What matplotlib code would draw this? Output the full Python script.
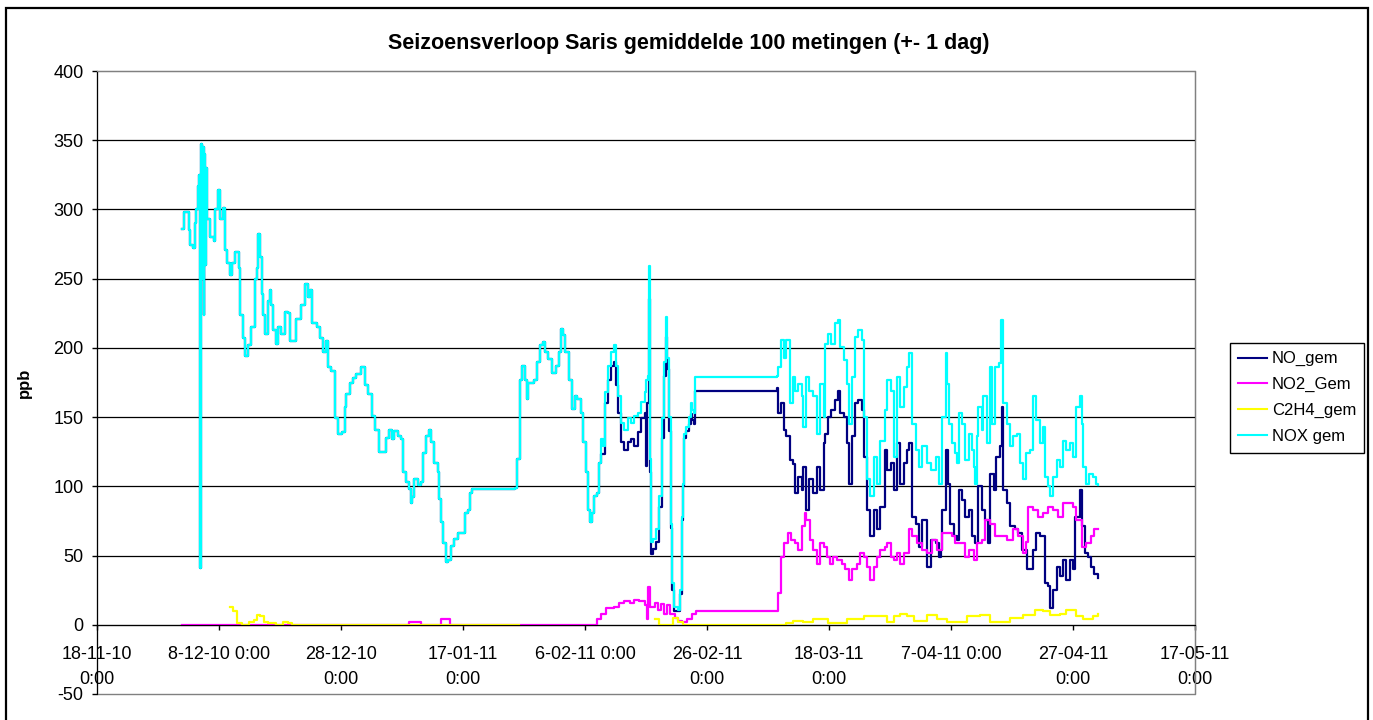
import numpy as np
import pandas as pd
import matplotlib
matplotlib.use('Agg')
import matplotlib.pyplot as plt
from matplotlib.patches import Rectangle

plt.rcParams['font.family'] = ['Liberation Sans', 'DejaVu Sans']
plt.rcParams['axes.unicode_minus'] = False

title = "Seizoensverloop Saris gemiddelde 100 metingen (+- 1 dag)"
series_names = ["NO_gem", "NO2_Gem", "C2H4_gem", "NOX gem"]
series_colors = ["#000080", "#FF00FF", "#FFFF00", "#00FFFF"]
start = pd.Timestamp("2010-11-18")

# NOX (days after 18-11-10, ppb)
nox_days = [13.9, 14.2, 14.7, 15.0, 15.3, 15.8, 16.1, 16.3, 16.6, 16.8, 16.9, 17.0, 17.1, 17.25,
            17.4, 17.5, 17.6, 17.75, 17.9, 18.0, 18.5, 19.1, 19.3, 19.9, 20.2, 20.7, 21.0, 21.3,
            21.8, 22.1, 22.6, 23.2, 23.4, 24.0, 24.3, 24.8, 25.3, 25.9, 26.2, 26.4, 26.7, 27.0,
            27.2, 27.5, 28.1, 28.3, 28.6, 28.9, 29.3, 29.7, 30.2, 30.8, 31.3, 31.6, 32.2, 32.7,
            33.5, 34.1, 34.6, 34.9, 35.2, 36.0, 36.5, 37.1, 37.6, 37.9, 38.4, 39.0, 39.5, 40.1,
            40.6, 40.9, 41.4, 42.0, 42.5, 43.2, 43.9, 44.4, 45.0, 45.5, 46.3, 46.9, 47.4, 47.9,
            48.4, 48.7, 49.3, 49.8, 50.1, 50.6, 51.2, 51.5, 51.7, 52.0, 52.6, 53.1, 53.4, 53.9,
            54.4, 54.8, 55.3, 55.9, 56.1, 56.4, 56.8, 57.2, 57.5, 58.1, 58.6, 59.2, 59.7, 60.3,
            60.8, 61.1, 61.4, 65.0, 68.5, 68.8, 69.3, 69.6, 70.2, 70.5, 70.7, 71.6, 72.1, 72.7,
            73.1, 73.5, 74.0, 74.6, 75.2, 75.7, 76.0, 76.4, 76.8, 77.4, 77.9, 78.3, 78.7, 79.3,
            79.6, 80.1, 80.5, 80.9, 81.2, 81.5, 82.0]
nox_vals = [286, 298, 298, 285, 274, 272, 290, 300, 317, 325, 41, 300, 347, 250,
            345, 224, 340, 260, 330, 293, 280, 277, 300, 314, 293, 301, 271, 261,
            253, 261, 269, 258, 224, 207, 194, 202, 215, 250, 258, 282, 266, 239,
            224, 210, 234, 242, 231, 213, 203, 215, 210, 226, 225, 205, 205, 221,
            231, 246, 237, 242, 218, 215, 207, 197, 205, 186, 183, 149, 138, 139,
            157, 167, 175, 178, 181, 186, 173, 167, 151, 141, 125, 125, 135, 141,
            134, 140, 136, 134, 110, 103, 98, 88, 92, 105, 101, 103, 124, 136,
            141, 132, 117, 110, 91, 74, 59, 45, 47, 57, 62, 66, 66, 81,
            83, 95, 98, 98, 99, 120, 177, 187, 177, 163, 175, 177, 190, 202,
            204, 197, 192, 182, 187, 197, 214, 209, 197, 177, 156, 165, 163, 153,
            132, 110, 83, 74, 81, 93, 95]
nox_late_days = [82.3, 82.7, 83.0, 83.3, 83.7, 84.2, 84.7, 85.1, 85.4, 85.9, 86.4, 87.0, 87.6,
                 88.1, 88.7, 89.1, 89.8, 90.0, 90.3, 90.5, 90.7, 90.8, 91.2, 91.7, 92.1, 92.6,
                 93.0, 93.2, 93.5, 93.8, 94.1, 94.3, 94.6, 95.2, 95.5, 95.9, 96.1, 96.3, 96.5,
                 97.1, 97.4, 97.6, 97.9, 98.1, 111.4, 111.6, 112.2, 112.7, 113.0, 113.6, 114.1,
                 114.4, 114.9, 115.5, 115.8, 116.3, 116.8, 117.4, 118.0, 118.5, 119.1, 119.3,
                 119.9, 120.4, 121.0, 121.4, 121.8, 122.4, 122.9, 123.2, 123.7, 124.3, 124.8,
                 125.4, 125.8, 126.2, 126.8, 127.3, 127.9, 128.4, 129.1, 129.5, 130.1, 130.6,
                 131.2, 131.7, 132.3, 132.8, 133.1, 133.6, 134.2, 134.7, 135.3, 136.1, 136.8,
                 137.5, 138.0, 138.5, 139.1, 139.3, 139.6, 140.2, 140.7, 141.0, 141.3, 141.8,
                 142.3, 142.9, 143.4, 143.7, 144.0, 144.2, 144.5, 145.1, 145.3, 145.9, 146.4,
                 146.8, 147.2, 147.8, 148.2, 148.6, 149.1, 149.7, 150.2, 150.8, 151.3, 151.8,
                 152.3, 152.9, 153.5, 154.0, 154.6, 155.1, 155.4, 155.9, 156.3, 156.7, 157.3,
                 157.8, 158.4, 158.9, 159.5, 160.0, 160.5, 161.1, 161.5, 161.7, 162.2, 162.7,
                 163.3, 163.8, 164.1]
nox_late_vals = [117, 134, 129, 168, 187, 197, 202, 187, 165, 146, 141, 149, 146,
                 151, 153, 161, 168, 177, 180, 259, 120, 60, 62, 69, 93, 149,
                 190, 222, 193, 150, 73, 30, 13, 11, 25, 78, 102, 138, 143,
                 150, 160, 155, 153, 179, 180, 186, 206, 193, 206, 160, 179,
                 169, 174, 165, 143, 179, 169, 165, 138, 174, 150, 203,
                 210, 203, 218, 220, 201, 191, 174, 145, 179, 208, 213,
                 206, 150, 105, 93, 121, 102, 133, 155, 177, 169, 121,
                 179, 157, 172, 186, 196, 145, 126, 114, 129, 117, 112,
                 121, 102, 150, 196, 174, 145, 131, 124, 117, 153, 145,
                 119, 138, 126, 114, 102, 136, 157, 141, 165, 131, 186,
                 145, 186, 189, 220, 160, 145, 129, 136, 138, 117, 105,
                 124, 126, 165, 148, 131, 143, 107, 100, 93, 107, 119,
                 114, 133, 126, 131, 121, 157, 165, 145, 114, 102, 109,
                 107, 102, 101]

# NO lies under NOX while NO2 is zero, then separates
no_late_days = [82.3, 82.7, 83.0, 83.3, 83.7, 84.2, 84.7, 85.1, 85.4, 85.9, 86.4, 87.0, 87.6,
                88.1, 88.7, 89.1, 89.8, 90.0, 90.2, 90.5, 90.7, 90.8, 91.2, 91.7, 92.1, 92.6,
                93.0, 93.2, 93.5, 93.8, 94.1, 94.3, 94.6, 95.2, 95.5, 95.9, 96.1, 96.3, 96.5,
                97.1, 97.4, 97.6, 97.9, 98.1, 111.4, 111.6, 112.2, 112.7, 113.0, 113.6, 114.1,
                114.4, 114.9, 115.5, 115.8, 116.3, 116.8, 117.4, 118.0, 118.5, 119.1, 119.3,
                119.9, 120.4, 121.0, 121.4, 121.8, 122.4, 122.9, 123.2, 123.7, 124.3, 124.8,
                125.4, 125.8, 126.2, 126.8, 127.3, 127.9, 128.4, 129.1, 129.5, 130.1, 130.6,
                131.2, 131.7, 132.3, 132.8, 133.1, 133.6, 134.2, 134.7, 135.3, 136.1, 136.8,
                137.5, 138.0, 138.3, 138.5, 139.1, 139.5, 139.9, 140.5, 141.0, 141.3, 141.8,
                142.3, 142.9, 143.4, 144.0, 144.5, 145.1, 145.6, 146.1, 146.4, 147.0, 147.4,
                148.0, 148.3, 148.6, 149.1, 149.7, 150.5, 151.0, 151.6, 152.1, 152.5, 152.9,
                153.4, 154.0, 154.6, 155.1, 155.4, 155.9, 156.3, 156.7, 157.3, 157.8, 158.4,
                158.9, 159.5, 160.0, 160.4, 161.1, 161.5, 161.9, 162.4, 163.0, 163.5, 164.1]
no_late_vals = [117, 123, 123, 160, 177, 187, 190, 173, 153, 132, 126, 132, 134,
                129, 139, 149, 153, 115, 160, 235, 110, 51, 55, 60, 85, 135,
                180, 208, 185, 140, 70, 25, 10, 10, 22, 76, 100, 135, 140,
                145, 152, 148, 145, 169, 171, 153, 160, 141, 136, 119, 116,
                95, 107, 97, 114, 83, 105, 95, 114, 97, 131, 138,
                150, 155, 162, 169, 153, 150, 131, 102, 136, 160, 162,
                155, 121, 83, 64, 83, 69, 85, 126, 112, 117, 97,
                131, 102, 117, 126, 131, 78, 73, 56, 76, 42, 61,
                59, 49, 54, 83, 126, 102, 73, 64, 61, 97, 90,
                78, 83, 64, 59, 100, 83, 76, 59, 109, 97, 121,
                129, 157, 97, 88, 71, 69, 66, 54, 54, 40, 40,
                54, 66, 64, 64, 30, 28, 12, 25, 42, 35, 47,
                32, 47, 40, 78, 97, 71, 52, 49, 42, 37, 34]

no2_days = [13.9, 51.0, 51.1, 53.0, 53.1, 56.3, 56.4, 57.8, 57.9, 81.5, 82.0, 82.6, 83.4, 84.2,
            84.7, 85.6, 86.4, 87.3, 88.1, 88.9, 89.8, 90.2, 90.4, 90.6, 91.4, 92.0, 92.5, 93.0,
            93.5, 93.9, 94.7, 95.3, 95.9, 96.8, 97.6, 98.2, 111.4, 111.6, 112.2, 112.7, 113.3,
            113.8, 114.4, 114.9, 115.5, 116.0, 116.3, 116.9, 117.4, 118.0, 118.5, 119.1, 119.6,
            120.2, 120.7, 121.3, 122.1, 122.6, 123.2, 123.7, 124.6, 125.1, 125.7, 126.2, 126.8,
            127.3, 127.9, 128.4, 129.1, 129.5, 130.1, 130.6, 131.2, 131.7, 132.3, 133.1, 133.6,
            134.5, 135.3, 136.1, 136.9, 137.7, 138.6, 139.4, 140.2, 140.7, 141.5, 142.3, 142.9,
            143.7, 144.2, 145.1, 145.6, 146.4, 147.2, 148.0, 149.1, 150.2, 151.0, 151.8, 152.3,
            152.7, 153.5, 154.3, 155.1, 155.9, 156.7, 157.6, 158.4, 159.2, 160.0, 160.5, 161.4,
            162.2, 163.0, 163.5, 164.1]
no2_vals = [0, 0, 2, 2, 0, 0, 4, 4, 0, 0, 4, 8, 12, 12,
            13, 16, 17, 16, 18, 17, 14, 4, 27, 13, 16, 11, 15, 8,
            14, 8, 5, 3, 2, 4, 8, 10, 10, 23, 49, 59, 66,
            61, 59, 54, 71, 81, 76, 61, 54, 44, 59, 56, 49,
            44, 49, 47, 44, 40, 32, 40, 44, 52, 49, 42, 32,
            42, 49, 54, 56, 59, 49, 47, 52, 44, 52, 69, 64,
            59, 54, 52, 61, 54, 66, 66, 64, 59, 59, 49, 54,
            47, 59, 61, 76, 73, 64, 64, 61, 69, 64, 52, 60,
            85, 83, 78, 81, 85, 83, 78, 88, 88, 85, 76, 56,
            59, 64, 69, 69]

c2h4_days = [21.8, 22.3, 23.0, 23.8, 24.9, 25.7, 26.3, 26.8, 27.3, 28.1, 29.4, 30.5, 31.3, 32.0,
             69.0, 69.1, 91.4, 92.2, 93.5, 94.5, 95.3, 96.0, 111.4, 113.0, 114.1, 115.8, 117.4,
             118.5, 119.9, 121.3, 122.9, 124.6, 125.7, 127.3, 129.5, 130.6, 131.7, 132.8, 133.9,
             136.1, 137.7, 139.4, 141.0, 142.6, 144.8, 146.4, 148.0, 149.7, 151.8, 153.8, 155.1,
             156.2, 157.8, 158.9, 160.5, 161.6, 163.3, 164.1]
c2h4_vals = [13, 10, 1, 0, 2, 3.5, 7, 6, 2, 1, 0, 2, 1, 0,
             0, np.nan, 4, 0, 0, 5, 2, 0, 0, 1, 3, 2, 4,
             4, 1, 1, 4, 4, 6, 6, 2, 6, 8, 6, 3,
             7, 4, 2, 2, 6, 7, 2, 2, 5, 7, 11, 10,
             7, 8, 11, 6, 4, 6, 8]


def to_dates(days):
    return start + pd.to_timedelta(np.asarray(days, dtype=float), unit="D")


no_days = nox_days + no_late_days
no_vals = nox_vals + no_late_vals
nox_all_days = nox_days + nox_late_days
nox_all_vals = nox_vals + nox_late_vals

fig = plt.figure(figsize=(13.73, 7.2), dpi=100)
ax = fig.add_axes([97 / 1373, 1 - 694 / 720, (1195 - 97) / 1373, (694 - 71) / 720])

data = [(no_days, no_vals), (no2_days, no2_vals), (c2h4_days, c2h4_vals), (nox_all_days, nox_all_vals)]
for (d, v), name, col in zip(data, series_names, series_colors):
    ax.plot(to_dates(d), v, color=col, lw=1.6, label=name, drawstyle="steps-post")

# Excel wraps the longer date labels onto a second line
ticks = pd.date_range(start, periods=10, freq="20D")
first_lines, second_lines = [], []
for t in ticks:
    base = f"{t.day}-{t.month:02d}-{t.year % 100:02d}"
    if t.day >= 10:
        first_lines.append(base)
        second_lines.append("0:00")
    else:
        first_lines.append(base + " 0:00")
        second_lines.append("")
ax.set_xlim(ticks[0], ticks[-1])
ax.set_xticks(ticks)
ax.set_xticklabels(first_lines)
ax.xaxis.remove_overlapping_locs = False
ax.set_xticks(ticks, minor=True)
ax.set_xticklabels(second_lines, minor=True)

yt = np.arange(-50, 401, 50)
ax.set_ylim(-50, 400)
ax.set_yticks(yt)
ax.grid(axis="y", color="black", lw=0.9)
for gl, v in zip(ax.get_ygridlines(), yt):
    if v in (-50, 400):
        gl.set_visible(False)

ax.spines["bottom"].set_position(("data", 0))
ax.spines["bottom"].set_color("black")
ax.spines["left"].set_color("black")
for s in ["top", "right"]:
    ax.spines[s].set_color("#808080")
ax.add_patch(Rectangle((0, 0), 1, 1, transform=ax.transAxes, fill=False,
                       ec="#808080", lw=1, zorder=0, clip_on=False))
ax.tick_params(axis="both", which="major", direction="out", length=3.6, width=1,
               labelsize=13, colors="black")
ax.tick_params(axis="x", which="major", pad=11.4)
ax.tick_params(axis="x", which="minor", length=0, pad=33, labelsize=13, colors="black")
ax.tick_params(axis="y", pad=6)

fig.text(0.5017, 1 - 43 / 720, title, ha="center", va="center", fontsize=15.5, fontweight="bold")
fig.text(24 / 1373, 1 - 383 / 720, "ppb", rotation=90, ha="center", va="center",
         fontsize=12, fontweight="bold")

leg = fig.legend(loc="upper left", bbox_to_anchor=(1230 / 1373, 1 - 343 / 720), fontsize=12,
                 frameon=True, fancybox=False, edgecolor="black", framealpha=1,
                 handlelength=1.7, handletextpad=0.3, labelspacing=0.65, borderpad=0.5,
                 borderaxespad=0)
leg.get_frame().set_linewidth(1)
for line in leg.get_lines():
    line.set_linewidth(1.5)

# outer chart border
fig.patches.append(Rectangle((6 / 1373, -0.05), (1368 - 6) / 1373, 1.05 - 8 / 720,
                             transform=fig.transFigure, fill=False, ec="black", lw=1.6))

fig.savefig("out.png", dpi=100)
